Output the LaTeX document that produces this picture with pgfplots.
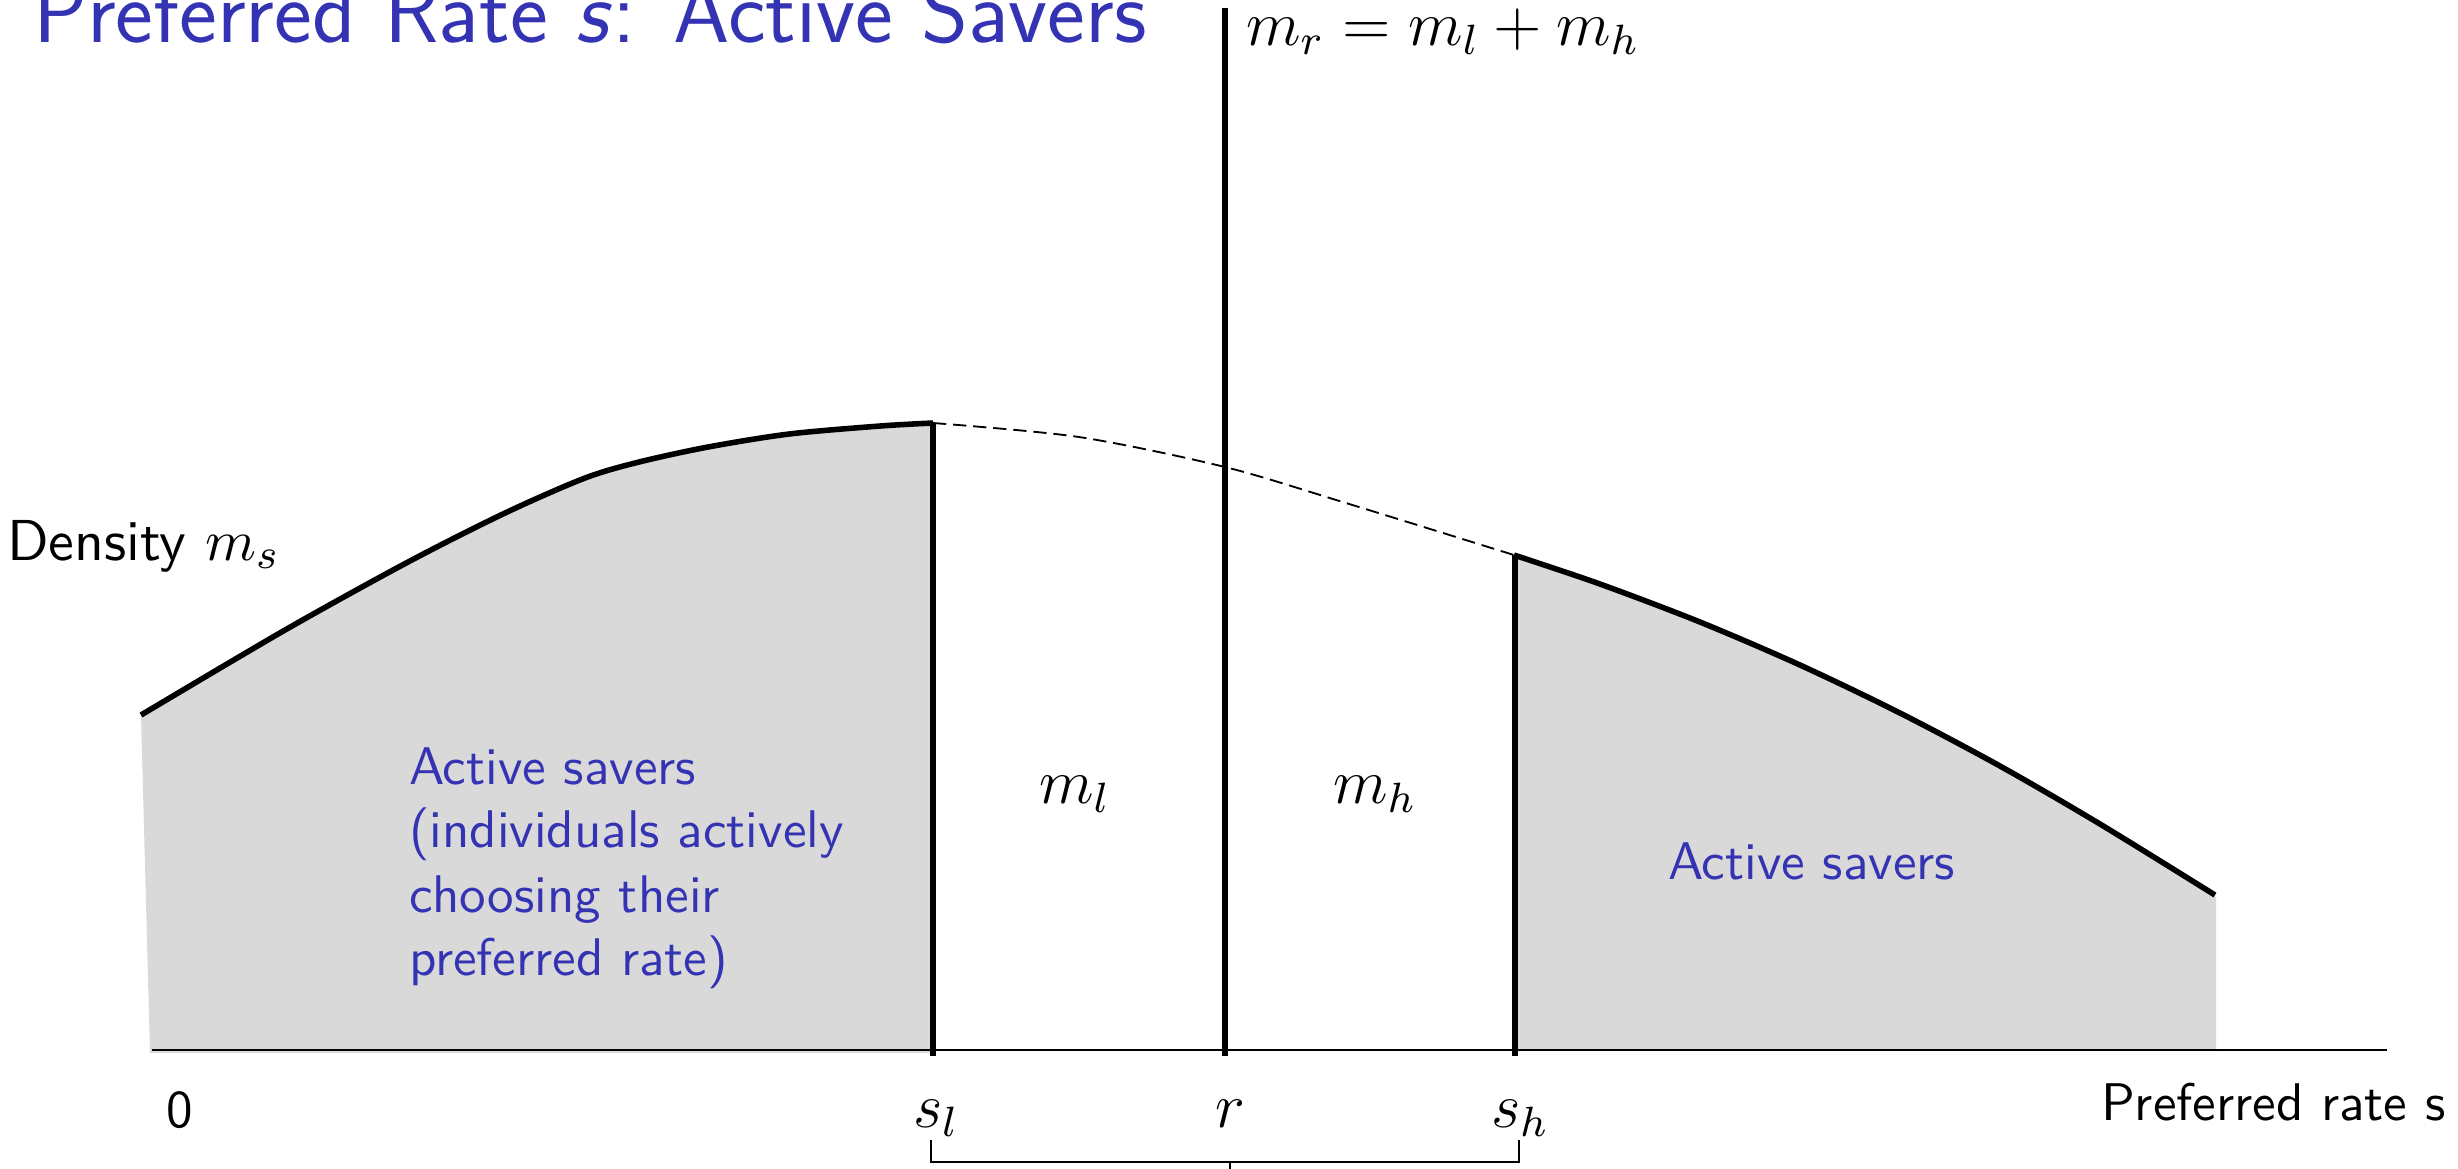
\documentclass[border=0pt]{standalone}
\usepackage{fontspec}
\renewcommand{\familydefault}{\sfdefault}
\usepackage{pgfplots}
\pgfplotsset{compat=1.18}
\usepgfplotslibrary{fillbetween}
\definecolor{beamerblue}{RGB}{51,51,179}
\definecolor{fillgrey}{RGB}{217,217,217}
\newcommand{\mathsize}{\fontsize{11.7}{14}\selectfont}

\begin{document}
\begin{tikzpicture}
\begin{axis}[
    scale only axis,
    width=463.8pt, height=220.4pt,
    xmin=0, xmax=2458, ymin=0, ymax=1168,
    axis lines=none, clip=false,
]
% density below s_l and above s_h
\addplot[name path=lo, draw=none, smooth] coordinates {
    (141,453) (285,538) (408,606) (505,655) (585,690) (639,706) (708,721) (789,734) (880,742) (933,745)};
\addplot[name path=lobase, draw=none] coordinates {(150,115) (933,115)};
\addplot[fillgrey] fill between[of=lo and lobase];
\addplot[name path=hi, draw=none, smooth] coordinates {
    (1517,611) (1600,584) (1700,546) (1800,503) (1900,455) (2000,402) (2100,344) (2216,271)};
\addplot[name path=hibase, draw=none] coordinates {(1517,118) (2216,118)};
\addplot[fillgrey] fill between[of=hi and hibase];

% curves
\addplot[black, line width=1.05pt, smooth] coordinates {
    (141,453) (285,538) (408,606) (505,655) (585,690) (639,706) (708,721) (789,734) (880,742) (933,745)};
\addplot[black, line width=1.05pt, smooth] coordinates {
    (1514,613) (1600,584) (1700,546) (1800,503) (1900,455) (2000,402) (2100,344) (2215,273)};
\addplot[black, line width=0.35pt, dash pattern=on 2.5pt off 1.3pt, smooth] coordinates {
    (933,745) (1079,731) (1225,701) (1346,665) (1514,613)};

% horizontal axis and cut-offs
\addplot[black, line width=0.45pt] coordinates {(152,118) (2387,118)};
\addplot[black, line width=0.95pt] coordinates {(933,112) (933,745)};
\addplot[black, line width=0.95pt] coordinates {(1225,112) (1225,1160)};
\addplot[black, line width=0.95pt] coordinates {(1515,112) (1515,613)};

% bracket under s_l .. s_h
\addplot[black, line width=0.3pt] coordinates {(931,28) (931,6) (1519,6) (1519,28)};
\addplot[black, line width=0.3pt] coordinates {(1230,6) (1230,-4)};

% text
\node[anchor=base west, font=\fontsize{17}{20}\selectfont, text=beamerblue, inner sep=0pt]
    at (32,1126) {Preferred Rate \textit{s}: Active Savers};
\node[anchor=base west, inner sep=0pt, font=\mathsize] at (1245,1123) {$m_r = m_l + m_h$};
\node[anchor=base west, inner sep=0pt, font=\fontsize{10.9}{13}\selectfont] at (6,608) {Density $m_s$};
\node[anchor=base, inner sep=0pt, font=\mathsize] at (1075,365) {$m_l$};
\node[anchor=base, inner sep=0pt, font=\mathsize] at (1375,365) {$m_h$};
\node[anchor=base west, inner sep=0pt, text=beamerblue] at (408,384) {Active savers};
\node[anchor=base west, inner sep=0pt, text=beamerblue] at (408,321) {(individuals actively};
\node[anchor=base west, inner sep=0pt, text=beamerblue] at (408,256) {choosing their};
\node[anchor=base west, inner sep=0pt, text=beamerblue] at (408,193) {preferred rate)};
\node[anchor=base west, inner sep=0pt, text=beamerblue] at (1667,289) {Active savers};
\node[anchor=base, inner sep=0pt] at (180,41) {0};
\node[anchor=base, inner sep=0pt, font=\mathsize] at (936,41) {$s_l$};
\node[anchor=base, inner sep=0pt, font=\mathsize] at (1230,41) {$r$};
\node[anchor=base, inner sep=0pt, font=\mathsize] at (1520,41) {$s_h$};
\node[anchor=base west, inner sep=0pt] at (2100,48) {Preferred rate s};
\end{axis}
\pgfresetboundingbox
\useasboundingbox (0,0) rectangle (463.8pt,220.4pt);
\end{tikzpicture}
\end{document}
